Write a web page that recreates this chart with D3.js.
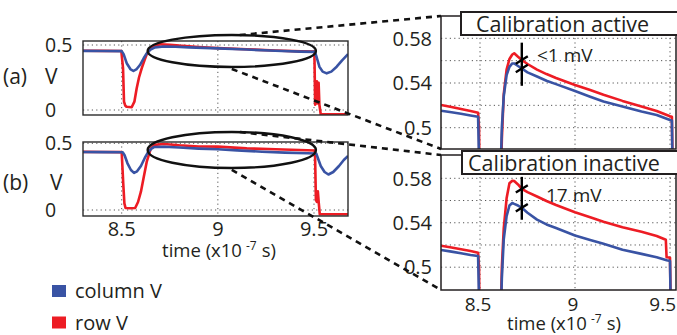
<!DOCTYPE html>
<html>
<head>
<meta charset="utf-8">
<script src="https://cdn.jsdelivr.net/npm/d3@7"></script>
<style>
  html, body { margin: 0; padding: 0; background: #fff; }
  svg { display: block; }
  text { font-family: "Open Sans", sans-serif; fill: #231f20; }
</style>
</head>
<body>
<svg id="fig" width="677" height="335"></svg>
<script>
// ---------- data (time in units of 1e-7 s, voltage in V) ----------
// Overview, calibration active
const tColA = [8.299, 8.40, 8.50, 8.51, 8.526, 8.545, 8.561, 8.578, 8.595, 8.615, 8.63, 8.65, 8.673, 8.72, 8.78, 8.85, 9.00, 9.15, 9.30, 9.43, 9.505, 9.515, 9.528, 9.545, 9.566, 9.59, 9.618, 9.645, 9.677];
const colA  = [0.455, 0.454, 0.453, 0.43, 0.36, 0.315, 0.30, 0.315, 0.346, 0.40, 0.436, 0.465, 0.482, 0.488, 0.487, 0.482, 0.474, 0.465, 0.456, 0.449, 0.447, 0.40, 0.333, 0.295, 0.282, 0.295, 0.333, 0.38, 0.43];
const tRowA = [8.299, 8.40, 8.498, 8.507, 8.512, 8.518, 8.525, 8.552, 8.566, 8.578, 8.59, 8.604, 8.618, 8.63, 8.645, 8.665, 8.70, 8.75, 8.80, 8.90, 9.00, 9.15, 9.30, 9.43, 9.502, 9.506, 9.512, 9.515, 9.52, 9.524, 9.528, 9.535, 9.677];
const rowA  = [0.456, 0.455, 0.454, 0.32, 0.064, 0.035, 0.025, 0.021, 0.064, 0.167, 0.25, 0.32, 0.38, 0.428, 0.465, 0.487, 0.505, 0.502, 0.495, 0.485, 0.476, 0.467, 0.458, 0.451, 0.449, 0.04, 0.06, 0.22, 0.05, 0.21, 0.04, -0.033, -0.033];

// Overview, calibration inactive
const tColB = [8.299, 8.40, 8.505, 8.515, 8.53, 8.548, 8.564, 8.58, 8.60, 8.62, 8.638, 8.655, 8.668, 8.72, 8.80, 8.90, 9.00, 9.10, 9.23, 9.35, 9.465, 9.512, 9.52, 9.535, 9.555, 9.575, 9.60, 9.63, 9.655, 9.677];
const colB  = [0.435, 0.434, 0.433, 0.41, 0.35, 0.30, 0.278, 0.29, 0.33, 0.39, 0.435, 0.46, 0.472, 0.474, 0.468, 0.46, 0.455, 0.447, 0.437, 0.43, 0.425, 0.423, 0.39, 0.33, 0.285, 0.266, 0.285, 0.33, 0.375, 0.405];
const tRowB = [8.299, 8.40, 8.50, 8.508, 8.514, 8.52, 8.545, 8.57, 8.585, 8.60, 8.615, 8.63, 8.651, 8.67, 8.72, 8.80, 8.90, 9.00, 9.15, 9.30, 9.465, 9.505, 9.51, 9.515, 9.52, 9.525, 9.53, 9.677];
const rowB  = [0.436, 0.435, 0.434, 0.20, 0.05, 0.015, 0.013, 0.015, 0.06, 0.137, 0.25, 0.36, 0.46, 0.488, 0.495, 0.485, 0.476, 0.475, 0.462, 0.455, 0.448, 0.446, 0.075, 0.06, 0.14, 0.05, -0.032, -0.032];

// Zoomed plateau, calibration active
const tZoomA = [8.295, 8.35, 8.40, 8.45, 8.49, 8.495, 8.50, 8.60, 8.605, 8.615, 8.625, 8.64, 8.655, 8.67, 8.68, 8.70, 8.72, 8.75, 8.80, 8.85, 8.90, 9.00, 9.08, 9.15, 9.25, 9.35, 9.43, 9.50, 9.51, 9.515, 9.53];
const colZoomA = [0.5152, 0.5138, 0.5125, 0.511, 0.5098, 0.47, 0.40, 0.40, 0.44, 0.50, 0.528, 0.547, 0.5545, 0.5575, 0.5575, 0.5552, 0.553, 0.5495, 0.5458, 0.542, 0.539, 0.5328, 0.5277, 0.5235, 0.519, 0.5145, 0.5113, 0.5069, 0.5065, 0.44, 0.40];
const rowZoomA = [0.5203, 0.5185, 0.5167, 0.515, 0.5134, 0.50, 0.40, 0.40, 0.42, 0.49, 0.53, 0.552, 0.5615, 0.5655, 0.5666, 0.5635, 0.5606, 0.557, 0.552, 0.548, 0.5445, 0.5382, 0.5337, 0.5295, 0.524, 0.519, 0.515, 0.5102, 0.5098, 0.45, 0.40];

// Zoomed plateau, calibration inactive
const tZoomB = [8.295, 8.35, 8.40, 8.45, 8.49, 8.495, 8.50, 8.60, 8.605, 8.615, 8.625, 8.64, 8.655, 8.67, 8.68, 8.70, 8.72, 8.75, 8.80, 8.85, 8.90, 9.00, 9.08, 9.15, 9.25, 9.35, 9.43, 9.478, 9.482, 9.495, 9.50, 9.505, 9.53];
const colZoomB = [0.5155, 0.514, 0.5125, 0.511, 0.510, 0.47, 0.40, 0.40, 0.43, 0.49, 0.525, 0.546, 0.5555, 0.5578, 0.557, 0.5555, 0.5535, 0.549, 0.5428, 0.5385, 0.5352, 0.5285, 0.5245, 0.521, 0.5157, 0.512, 0.5089, 0.5065, 0.5063, 0.5058, 0.5055, 0.45, 0.40];
const rowZoomB = [0.5193, 0.5178, 0.5162, 0.5145, 0.513, 0.50, 0.40, 0.40, 0.42, 0.50, 0.535, 0.562, 0.5755, 0.5778, 0.5775, 0.5745, 0.5705, 0.5675, 0.5636, 0.5596, 0.556, 0.5495, 0.5449, 0.541, 0.536, 0.5318, 0.5281, 0.5247, 0.509, 0.5088, 0.5086, 0.45, 0.40];

// Axes, annotations and labels
const timeTicks = [8.5, 9, 9.5];
const overviewYTicks = [0, 0.5];
const zoomYTicks = [0.5, 0.54, 0.58];
const zoomYGrid = [0.5, 0.52, 0.54, 0.56, 0.58];
const ellipseT = [8.635, 9.51];
const ellipseVA = [0.331, 0.577];
const ellipseVB = [0.315, 0.585];
const markerTime = 8.72;
const markerHalf = 0.0193;
const markerLabels = ["<1 mV", "17 mV"];
const panelTitles = ["Calibration active", "Calibration inactive"];
const panelLetters = ["(a)", "(b)"];
const legendLabels = ["column V", "row V"];

const COL = "#3953a4", ROW = "#ed1c24", INK = "#231f20";

// ---------- drawing ----------
const svg = d3.select("#fig");
const defs = svg.append("defs");

const xOv = d3.scaleLinear().domain([8.5, 9.5]).range([121.7, 314]);
const xZm = d3.scaleLinear().domain([8.5, 9.5]).range([480, 670]);

const overviews = [
  { id: "ovA", box: [83, 41, 348, 115], y: d3.scaleLinear().domain([0, 0.5]).range([110, 45]),
    col: [tColA, colA], row: [tRowA, rowA], ell: ellipseVA, xLabels: false,
    letter: panelLetters[0], letterPos: [3, 84], vPos: [45, 84] },
  { id: "ovB", box: [83, 142, 348, 216], y: d3.scaleLinear().domain([0, 0.5]).range([210, 143.3]),
    col: [tColB, colB], row: [tRowB, rowB], ell: ellipseVB, xLabels: true,
    letter: panelLetters[1], letterPos: [3, 190], vPos: [50, 190] }
];

const zooms = [
  { id: "zmA", box: [441, 16, 676, 149], y: d3.scaleLinear().domain([0.5, 0.58]).range([127.7, 38.3]),
    t: tZoomA, col: colZoomA, row: rowZoomA, title: panelTitles[0], titleBox: [461, 12, 222, 23], titleX: 476,
    label: markerLabels[0], labelPos: [537, 62], xLabels: false },
  { id: "zmB", box: [441, 155, 676, 290], y: d3.scaleLinear().domain([0.5, 0.58]).range([267.2, 178.3]),
    t: tZoomB, col: colZoomB, row: rowZoomB, title: panelTitles[1], titleBox: [462, 151, 222, 23], titleX: 468,
    label: markerLabels[1], labelPos: [546, 201.5], xLabels: true }
];

function clipFor(id, b) {
  defs.append("clipPath").attr("id", "clip-" + id)
    .append("rect").attr("x", b[0]).attr("y", b[1]).attr("width", b[2] - b[0]).attr("height", b[3] - b[1]);
  return "url(#clip-" + id + ")";
}

function drawGrid(g, b, x, y, xs, ys) {
  g.selectAll(null).data(xs).enter().append("line")
    .attr("x1", d => x(d)).attr("x2", d => x(d)).attr("y1", b[1]).attr("y2", b[3])
    .attr("stroke", "#555").attr("stroke-width", 1).attr("stroke-dasharray", "1.2,3.2");
  g.selectAll(null).data(ys).enter().append("line")
    .attr("x1", b[0]).attr("x2", b[2]).attr("y1", d => y(d)).attr("y2", d => y(d))
    .attr("stroke", "#555").attr("stroke-width", 1).attr("stroke-dasharray", "1.2,3.2");
}

function trace(g, x, y, ts, vs, color, clip) {
  const pts = ts.map((t, i) => [t, vs[i]]);
  g.append("path").datum(pts)
    .attr("d", d3.line().x(d => x(d[0])).y(d => y(d[1])))
    .attr("fill", "none").attr("stroke", color).attr("stroke-width", 2.6)
    .attr("stroke-linejoin", "round").attr("clip-path", clip);
}

// overview panels
overviews.forEach(p => {
  const g = svg.append("g");
  const b = p.box;
  const clip = clipFor(p.id, b);
  drawGrid(g, b, xOv, p.y, timeTicks, overviewYTicks);
  trace(g, xOv, p.y, p.row[0], p.row[1], ROW, clip);
  trace(g, xOv, p.y, p.col[0], p.col[1], COL, clip);
  g.append("rect").attr("x", b[0]).attr("y", b[1]).attr("width", b[2] - b[0]).attr("height", b[3] - b[1])
    .attr("fill", "none").attr("stroke", "#2b2b2b").attr("stroke-width", 1.4);

  // y tick labels, left aligned
  g.selectAll(null).data(overviewYTicks).enter().append("text")
    .attr("x", 45).attr("y", d => p.y(d)).attr("dy", "0.36em")
    .attr("font-size", 19.5).text(d => d3.format("")(d));

  if (p.xLabels) {
    g.selectAll(null).data(timeTicks).enter().append("text")
      .attr("x", d => xOv(d)).attr("y", b[3] + 20).attr("text-anchor", "middle")
      .attr("font-size", 20).text(d => d3.format("")(d));
  }
  svg.append("text").attr("x", p.letterPos[0]).attr("y", p.letterPos[1]).attr("font-size", 21).text(p.letter);
  svg.append("text").attr("x", p.vPos[0]).attr("y", p.vPos[1]).attr("font-size", 21).text("V");
});

// zoomed panels
zooms.forEach(p => {
  const g = svg.append("g");
  const b = p.box;
  const clip = clipFor(p.id, b);
  drawGrid(g, b, xZm, p.y, timeTicks, zoomYGrid);
  trace(g, xZm, p.y, p.t, p.row, ROW, clip);
  trace(g, xZm, p.y, p.t, p.col, COL, clip);
  g.append("rect").attr("x", b[0]).attr("y", b[1]).attr("width", b[2] - b[0]).attr("height", b[3] - b[1])
    .attr("fill", "none").attr("stroke", INK).attr("stroke-width", 1.5);

  g.selectAll(null).data(zoomYTicks).enter().append("text")
    .attr("x", 432).attr("y", d => p.y(d)).attr("dy", "0.36em").attr("text-anchor", "end")
    .attr("font-size", 20).text(d => d3.format("")(d));

  if (p.xLabels) {
    const last = timeTicks[timeTicks.length - 1];
    g.selectAll(null).data(timeTicks).enter().append("text")
      .attr("x", d => d === last ? b[2] : xZm(d) - 2).attr("y", b[3] + 21)
      .attr("text-anchor", d => d === last ? "end" : "middle")
      .attr("font-size", 19).text(d => d3.format("")(d));
  }

  // title box
  const tb = p.titleBox;
  g.append("rect").attr("x", tb[0]).attr("y", tb[1]).attr("width", tb[2]).attr("height", tb[3])
    .attr("fill", "#fff").attr("stroke", INK).attr("stroke-width", 2);
  g.append("text").attr("x", p.titleX).attr("y", tb[1] + tb[3] - 3.5)
    .attr("font-size", 21.5).text(p.title);

  // difference marker at markerTime
  const interp = arr => {
    const i = d3.bisectLeft(p.t, markerTime);
    const f = (markerTime - p.t[i - 1]) / (p.t[i] - p.t[i - 1]);
    return arr[i - 1] + f * (arr[i] - arr[i - 1]);
  };
  const vRow = interp(p.row), vCol = interp(p.col);
  const mid = (vRow + vCol) / 2;
  const mx = xZm(markerTime);
  g.append("line").attr("x1", mx).attr("x2", mx)
    .attr("y1", p.y(mid + markerHalf)).attr("y2", p.y(mid - markerHalf))
    .attr("stroke", "#000").attr("stroke-width", 2.4);
  [vRow, vCol].forEach(v => {
    g.append("line").attr("x1", mx - 6).attr("x2", mx + 6)
      .attr("y1", p.y(v) + 3.7).attr("y2", p.y(v) - 3.7)
      .attr("stroke", "#000").attr("stroke-width", 2.4);
  });
  g.append("text").attr("x", p.labelPos[0]).attr("y", p.labelPos[1]).attr("font-size", 19).text(p.label);
});

// time axis labels
function timeLabel(cx, baseline) {
  const t = svg.append("text").attr("x", cx).attr("y", baseline).attr("text-anchor", "middle").attr("font-size", 18.5);
  t.append("tspan").text("time (x10");
  t.append("tspan").attr("dx", 4).attr("dy", -7).attr("font-size", 12).text("-7");
  t.append("tspan").attr("dx", 5).attr("dy", 7).text("s)");
}
timeLabel(219, 257);
timeLabel(564, 330);

// ellipses and dashed connectors
overviews.forEach((p, i) => {
  const cx = (xOv(ellipseT[0]) + xOv(ellipseT[1])) / 2;
  const rx = (xOv(ellipseT[1]) - xOv(ellipseT[0])) / 2;
  const cy = (p.y(p.ell[0]) + p.y(p.ell[1])) / 2;
  const ry = (p.y(p.ell[0]) - p.y(p.ell[1])) / 2;
  svg.append("ellipse").attr("cx", cx).attr("cy", cy).attr("rx", rx).attr("ry", ry)
    .attr("fill", "none").attr("stroke", "#111").attr("stroke-width", 2.4);
  const zb = zooms[i].box;
  const dash = { stroke: "#111", "stroke-width": 2.6, "stroke-dasharray": "6,5" };
  const top = svg.append("line").attr("x1", cx + 8).attr("y1", cy - ry).attr("x2", zb[0]).attr("y2", zb[1]);
  const bot = svg.append("line").attr("x1", cx).attr("y1", cy + ry + 2).attr("x2", zb[0]).attr("y2", zb[3]);
  [top, bot].forEach(l => Object.entries(dash).forEach(([k, v]) => l.attr(k, v)));
});

// legend
const legend = svg.append("g");
legendLabels.forEach((lab, i) => {
  const y0 = 285 + i * 31.5;
  legend.append("rect").attr("x", 52).attr("y", y0).attr("width", 14).attr("height", 12)
    .attr("fill", i === 0 ? COL : ROW);
  legend.append("text").attr("x", 75).attr("y", y0 + 13).attr("font-size", 20).text(lab);
});
</script>
</body>
</html>
